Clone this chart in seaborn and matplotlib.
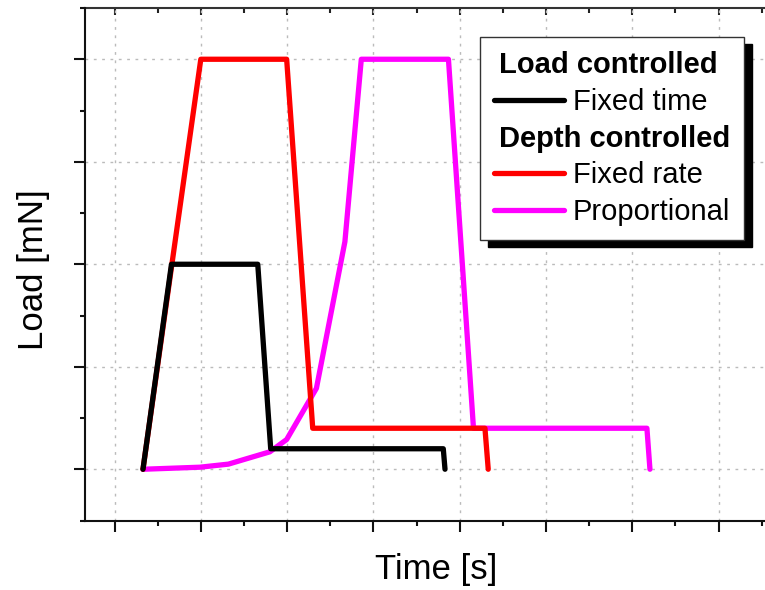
import matplotlib
matplotlib.use('Agg')
import matplotlib.pyplot as plt
import seaborn as sns
from matplotlib.lines import Line2D
from matplotlib.ticker import MultipleLocator, NullFormatter

# time [s] / load [mN] (axis is unlabelled)
time_fixed = [13.3, 16.6, 26.6, 28.1, 48.1, 48.3]
load_fixed = [0, 2.0, 2.0, 0.2, 0.2, 0]

time_rate = [13.3, 20.0, 29.95, 32.97, 52.93, 53.31]
load_rate = [0, 4.0, 4.0, 0.4, 0.4, 0]

time_prop = [13.3, 19.9, 23.2, 28.0, 29.95, 33.4, 36.7, 38.6, 48.7, 51.6, 71.7, 72.05]
load_prop = [0, 0.02, 0.05, 0.17, 0.29, 0.79, 2.22, 4.0, 4.0, 0.4, 0.4, 0]

headings = ['Load controlled', 'Depth controlled']

sns.set_theme(style='ticks')
plt.rcParams['font.family'] = ['Liberation Sans', 'DejaVu Sans']
plt.rcParams['text.color'] = 'black'
plt.rcParams['axes.labelcolor'] = 'black'

fig = plt.figure(figsize=(7.65, 5.9), dpi=100)
ax = fig.add_axes([85 / 765, 69.5 / 590, 681 / 765, 512.5 / 590])

lw = 3.8
sns.lineplot(x=time_prop, y=load_prop, sort=False, estimator=None, color='#ff00ff', lw=lw, ax=ax)
sns.lineplot(x=time_rate, y=load_rate, sort=False, estimator=None, color='#ff0000', lw=lw, ax=ax)
sns.lineplot(x=time_fixed, y=load_fixed, sort=False, estimator=None, color='#000000', lw=lw, ax=ax)

ax.set_xlim(6.58, 85.5)
ax.set_ylim(-0.5, 4.5)
ax.xaxis.set_major_locator(MultipleLocator(10))
ax.xaxis.set_minor_locator(MultipleLocator(5))
ax.yaxis.set_major_locator(MultipleLocator(1))
ax.yaxis.set_minor_locator(MultipleLocator(0.5))
ax.xaxis.set_major_formatter(NullFormatter())
ax.yaxis.set_major_formatter(NullFormatter())
ax.tick_params(which='major', direction='out', length=8, width=1.5, color='#111111')
ax.tick_params(which='minor', direction='out', length=3.6, width=1.5, color='#111111')
ax.grid(True, which='major', color='#bbbbbb', linestyle=(0, (2, 4)), linewidth=1)

for side in ['left', 'bottom']:
    ax.spines[side].set_color('#111111')
    ax.spines[side].set_linewidth(1.5)
ax.spines['right'].set_visible(False)
ax.spines['top'].set_visible(False)

# mirrored top axis with inward ticks
top = ax.secondary_xaxis('top')
top.xaxis.set_major_locator(MultipleLocator(10))
top.xaxis.set_minor_locator(MultipleLocator(5))
top.xaxis.set_major_formatter(NullFormatter())
top.tick_params(which='major', direction='in', length=5, width=1.5, color='#222222')
top.tick_params(which='minor', direction='in', length=3.6, width=1.5, color='#222222')
top.spines['top'].set_color('#333333')
top.spines['top'].set_linewidth(1.5)

ax.set_xlabel('Time [s]', fontsize=25, labelpad=12)
ax.set_ylabel('Load [mN]', fontsize=25, labelpad=14)
ax.xaxis.label.set_x(0.515)
ax.yaxis.label.set_y(0.49)

blank = Line2D([], [], color='none')
handles = [blank,
           Line2D([], [], color='#000000', lw=lw),
           blank,
           Line2D([], [], color='#ff0000', lw=lw),
           Line2D([], [], color='#ff00ff', lw=lw)]
labels = ['Load controlled', 'Fixed time', 'Depth controlled', 'Fixed rate', 'Proportional']
leg = ax.legend(handles, labels, loc='upper left', bbox_to_anchor=(0.580, 0.943),
                borderaxespad=0, fontsize=21, handlelength=2.4, handletextpad=0.3,
                labelspacing=0.3, borderpad=0.48, fancybox=False, framealpha=1,
                shadow={'ox': 5.5, 'oy': -5, 'color': 'black', 'alpha': 1})
leg.get_frame().set_edgecolor('#333333')
leg.get_frame().set_linewidth(1.0)
for col in leg._legend_handle_box.get_children():
    for row in col.get_children():
        da, ta = row.get_children()
        if ta._text.get_text() in headings:
            da.width = -3
            ta._text.set_fontweight('bold')

fig.savefig('out.png', dpi=100)
